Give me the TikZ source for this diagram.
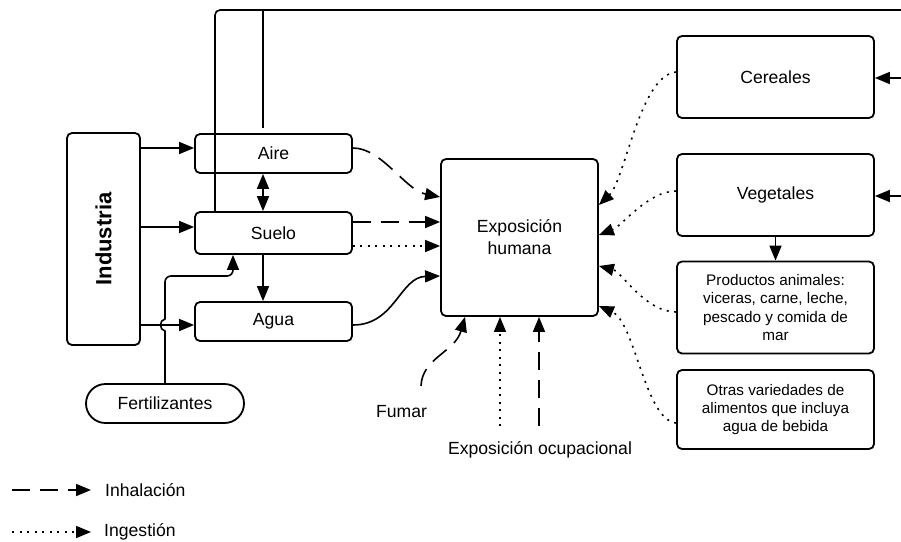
\documentclass[tikz,border=0pt]{standalone}
\usepackage{fontspec}
\setmainfont{Liberation Sans}
\usetikzlibrary{arrows.meta,shapes.misc}
\begin{document}
\begin{tikzpicture}[x=1pt,y=-1pt,
  box/.style={draw, line width=1.8pt, rounded corners=5pt, align=center, inner sep=0pt,
    font=\fontsize{17.6}{22}\selectfont},
  smallbox/.style={box, font=\fontsize{15.3}{18.3}\selectfont},
  ln/.style={line width=1.6pt},
  arr/.style={ln, -{Triangle[length=15pt,width=12pt]}},
  darr/.style={ln, {Triangle[length=15pt,width=12pt]}-{Triangle[length=15pt,width=12pt]}},
  dsh/.style={dash pattern=on 18pt off 10pt},
  dtt/.style={dash pattern=on 2pt off 5.5pt},
  lbl/.style={font=\fontsize{17.6}{20}\selectfont, inner sep=0pt}
]
\useasboundingbox (0,0) rectangle (901,541);

% nodes
\node[box, minimum width=73pt, minimum height=212pt] (ind) at (103.5,239)
  {\rotatebox{90}{\fontsize{22}{26}\selectfont\bfseries Industria}};
\node[box, minimum width=157pt, minimum height=39pt] (aire) at (273.5,153.5) {Aire};
\node[box, minimum width=157pt, minimum height=42pt] (suelo) at (273.5,233) {Suelo};
\node[box, minimum width=157pt, minimum height=39pt] (agua) at (273.5,321.5) {Agua};
\node[draw, line width=1.8pt, rounded rectangle, minimum width=158pt, minimum height=39pt,
  inner sep=0pt, font=\fontsize{17.6}{20}\selectfont] (fert) at (165,403.5) {Fertilizantes};
\node[box, minimum width=157pt, minimum height=157pt] (exp) at (519.5,237.5) {Exposición\\humana};
\node[box, minimum width=197pt, minimum height=82pt] (cer) at (775.5,77) {Cereales};
\node[box, minimum width=197pt, minimum height=82pt] (veg) at (775.5,195) {Vegetales};
\node[smallbox, minimum width=197pt, minimum height=92pt] (prod) at (775.5,307.5)
  {Productos animales:\\viceras, carne, leche,\\pescado y comida de\\mar};
\node[smallbox, minimum width=197pt, minimum height=79pt] (otr) at (775.5,409.5)
  {Otras variedades de\\alimentos que incluya\\agua de bebida};

\node[lbl] (fumar) at (401.5,412) {Fumar};
\node[lbl] (ocup) at (540,450) {Exposición ocupacional};

% Industria to compartments
\coordinate (ia) at ([yshift=5.5pt]aire.west);
\coordinate (is) at ([yshift=6pt]suelo.west);
\coordinate (iw) at ([yshift=-3.5pt]agua.west);
\draw[arr] (ind.east |- ia) -- (ia);
\draw[arr] (ind.east |- is) -- (is);
\draw[arr] (ind.east |- iw) -- (iw);

% Fertilizantes to Suelo with hop
\coordinate (fa) at (165,331);
\coordinate (fb) at (165,319);
\coordinate (fc) at (165,276);
\coordinate (fx) at (233,276);
\draw[arr] (fert.north) -- (fa) .. controls (159,330) and (159,320) .. (fb)
  [rounded corners=6pt] -- (fc) -- (fx) -- (fx |- suelo.south);

% Aire <-> Suelo, Suelo -> Agua
\coordinate (cx) at (263,0);
\draw[darr] (cx |- aire.south) -- (cx |- suelo.north);
\draw[arr] (cx |- suelo.south) -- (cx |- agua.north);

% top lines
\coordinate (tl) at (215,10);
\coordinate (tr) at (901,10);
\coordinate (t2) at (263,10);
\coordinate (t2e) at (263,128);
\draw[ln, rounded corners=5pt] (tl |- suelo.north) -- (tl) -- (tr);
\draw[ln] (t2) -- (t2e);

% incoming from the right
\coordinate (rc) at (901,78);
\coordinate (rv) at (901,196);
\draw[arr] (rc) -- (rc -| cer.east);
\draw[arr] (rv) -- (rv -| veg.east);
\draw[arr] (veg.south) -- (prod.north);

% to Exposicion from compartments
\draw[arr, dsh] ([yshift=5.5pt]aire.east) .. controls (382,148) and (405,190) .. ([yshift=40.5pt]exp.west);
\draw[arr, dsh] ([yshift=11pt]suelo.east) -- ([yshift=11pt]suelo.east -| exp.west);
\draw[arr, dtt] ([yshift=-13pt]suelo.east) -- ([yshift=-13pt]suelo.east -| exp.west);
\draw[arr] ([yshift=-3.5pt]agua.east) .. controls (395,325) and (400,277) .. ([yshift=-38.5pt]exp.west);

% Fumar and occupational
\coordinate (fs) at (421,386);
\draw[arr, dsh] (fs) .. controls (422,358) and (455,352) .. ([xshift=-54.5pt]exp.south);
\coordinate (od) at (500,426);
\coordinate (oh) at (539,426);
\draw[arr, dtt] (od) -- (od |- exp.south);
\draw[arr, dsh] (oh) -- (oh |- exp.south);

% foods to Exposicion
\draw[arr, dtt] ([yshift=5pt]cer.west) .. controls (640,75) and (625,180) .. ([yshift=32.5pt]exp.east);
\draw[arr, dtt] ([yshift=4pt]veg.west) .. controls (648,191) and (622,226) .. ([yshift=2.5pt]exp.east);
\draw[arr, dtt] ([yshift=-4.5pt]prod.west) .. controls (645,312) and (622,272) .. ([yshift=-28.5pt]exp.east);
\draw[arr, dtt] ([yshift=-13.5pt]otr.west) .. controls (645,420) and (635,322) .. ([yshift=-68.5pt]exp.east);

% legend
\coordinate (l1a) at (12,490);
\coordinate (l1b) at (91,490);
\coordinate (l2a) at (12,532);
\coordinate (l2b) at (91,532);
\draw[arr, dsh] (l1a) -- (l1b);
\draw[arr, dtt] (l2a) -- (l2b);
\node[lbl, anchor=west] (linh) at (105,490) {Inhalación};
\node[lbl, anchor=west] (ling) at (104,532) {Ingestión};
\end{tikzpicture}
\end{document}
